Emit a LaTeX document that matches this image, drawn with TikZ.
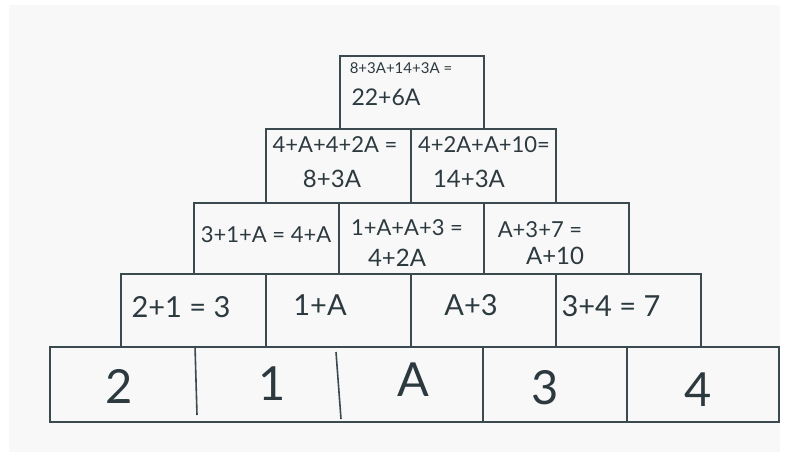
\documentclass[tikz,border=0pt]{standalone}
\usepackage{fontspec}
\setmainfont{Lato}
\definecolor{ink}{HTML}{3A4A4E}
\definecolor{txtc}{HTML}{2C3A40}
\definecolor{paper}{HTML}{F8F8F8}
\begin{document}
\begin{tikzpicture}[x=1pt,y=-1pt,
  cell/.style={draw=ink,line width=1.8pt,minimum width=145pt,minimum height=73pt,inner sep=0pt,anchor=north west},
  hw/.style={text=txtc,inner sep=0pt,align=center},
  big/.style={hw,font=\fontsize{47}{47}\selectfont},
  mid/.style={hw,font=\fontsize{29}{29}\selectfont},
  sml/.style={hw,font=\fontsize{22}{24}\selectfont},
  smb/.style={hw,font=\fontsize{24}{24}\selectfont},
  tiny/.style={hw,font=\fontsize{15}{15}\selectfont},
  top/.style={hw,font=\fontsize{23}{23}\selectfont}]
\useasboundingbox (0,0) rectangle (787,457);
\fill[white] (0,0) rectangle (787,457);
\fill[paper] (9,5) rectangle (780,452);
% row 5 (bottom)
\node[cell,minimum width=729pt,minimum height=75pt] (r5) at (49,346) {};
\coordinate (d51t) at (195,346); \coordinate (d51b) at (197,415);
\coordinate (d52t) at (336,352); \coordinate (d52b) at (341,419);
\coordinate (d53t) at (483,346); \coordinate (d53b) at (483,421);
\coordinate (d54t) at (627,346); \coordinate (d54b) at (627,421);
\draw[ink,line width=1.6pt] (d51t) -- (d51b) (d52t) -- (d52b) (d53t) -- (d53b) (d54t) -- (d54b);
% row 4
\node[cell,minimum width=145pt] (c41) at (120,273) {};
\node[cell] (c42) at (265,273) {};
\node[cell] (c43) at (410,273) {};
\node[cell] (c44) at (555,273) {};
% row 3
\node[cell,minimum height=71pt] (c31) at (193,202) {};
\node[cell,minimum height=71pt] (c32) at (338,202) {};
\node[cell,minimum height=71pt] (c33) at (483,202) {};
% row 2
\node[cell,minimum height=74pt] (c21) at (265,128) {};
\node[cell,minimum height=74pt] (c22) at (410,128) {};
% row 1
\node[cell,minimum width=144pt] (c11) at (339,55) {};
% texts
\node[big] (t51) at (119,386) {2};
\node[big] (t52) at (272,384) {1};
\node[big] (t53) at (413,380) {A};
\node[big] (t54) at (545,388) {3};
\node[big] (t55) at (698,390) {4};
\node[mid] (t41) at (181,307) {2+1 = 3};
\node[mid] (t42) at (320,305) {1+A};
\node[mid] (t43) at (471,305) {A+3};
\node[mid] (t44) at (611,306) {3+4 = 7};
\node[sml] (t31) at (266,235) {3+1+A = 4+A};
\node[sml] (t32a) at (407,228) {1+A+A+3 =};
\node[smb] (t32b) at (397,258) {4+2A};
\node[sml] (t33a) at (540,230) {A+3+7 =};
\node[smb] (t33b) at (555,256) {A+10};
\node[sml] (t21a) at (335,145) {4+A+4+2A =};
\node[smb] (t21b) at (332,179) {8+3A};
\node[sml] (t22a) at (484,145) {4+2A+A+10=};
\node[smb] (t22b) at (469,179) {14+3A};
\node[tiny] (t11a) at (401,68) {8+3A+14+3A =};
\node[top] (t11b) at (386,97) {22+6A};
\end{tikzpicture}
\end{document}
